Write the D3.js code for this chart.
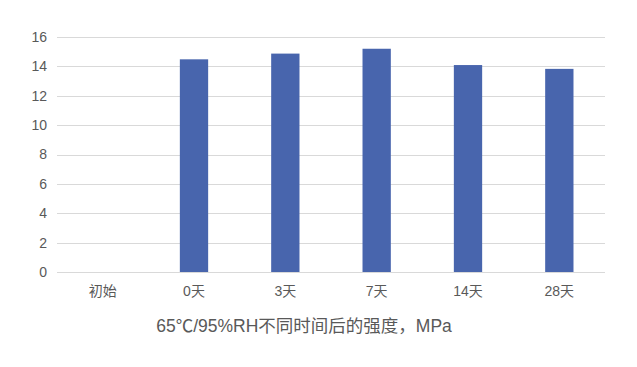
<!DOCTYPE html>
<html>
<head>
<meta charset="utf-8">
<script src="https://cdn.jsdelivr.net/npm/d3@7"></script>
<style>
  body { margin: 0; background: #fff; }
  text { font-family: "Liberation Sans", Arial, "Noto Sans CJK SC", sans-serif; fill: #595959; }
</style>
</head>
<body>
<div id="chart"></div>
<script>
// data
var categories = ["初始", "0天", "3天", "7天", "14天", "28天"];
var values = [0, 14.48, 14.87, 15.2, 14.09, 13.83];
var yTicks = [0, 2, 4, 6, 8, 10, 12, 14, 16];
var title = "65℃/95%RH不同时间后的强度，MPa";

var width = 637, height = 367;
var plotLeft = 57, plotRight = 605, plotTop = 37, plotBottom = 272;

var svg = d3.select("#chart").append("svg")
  .attr("width", width)
  .attr("height", height);

var xScale = d3.scaleBand()
  .domain(categories)
  .range([plotLeft, plotRight])
  .paddingInner(0.69)
  .paddingOuter(0.345);

var yScale = d3.scaleLinear()
  .domain([0, 16])
  .range([plotBottom, plotTop]);

// gridlines
svg.append("g")
  .selectAll("line")
  .data(yTicks)
  .enter()
  .append("line")
  .attr("x1", plotLeft)
  .attr("x2", plotRight)
  .attr("y1", function(d) { return Math.round(yScale(d)) + 0.5; })
  .attr("y2", function(d) { return Math.round(yScale(d)) + 0.5; })
  .attr("stroke", "#d9d9d9")
  .attr("stroke-width", 1);

// y labels
var yAxis = d3.axisLeft(yScale).tickValues(yTicks).tickSize(0).tickPadding(10);
var yG = svg.append("g")
  .attr("transform", "translate(" + plotLeft + ",0)")
  .call(yAxis);
yG.select(".domain").remove();
yG.selectAll("text").attr("font-size", "14px").style("fill", "#595959");

// x labels
var xAxis = d3.axisBottom(xScale).tickSize(0).tickPadding(14);
var xG = svg.append("g")
  .attr("transform", "translate(0," + plotBottom + ")")
  .call(xAxis);
xG.select(".domain").remove();
xG.selectAll("text").attr("font-size", "14px").style("fill", "#595959");

// bars
svg.append("g")
  .selectAll("rect")
  .data(values)
  .enter()
  .append("rect")
  .attr("x", function(d, i) { return xScale(categories[i]); })
  .attr("y", function(d) { return yScale(d); })
  .attr("width", xScale.bandwidth())
  .attr("height", function(d) { return plotBottom - yScale(d); })
  .attr("fill", "#4865ad");

// title below
svg.append("text")
  .attr("x", 304)
  .attr("y", 332)
  .attr("text-anchor", "middle")
  .attr("font-size", "17.5px")
  .text(title);
</script>
</body>
</html>
